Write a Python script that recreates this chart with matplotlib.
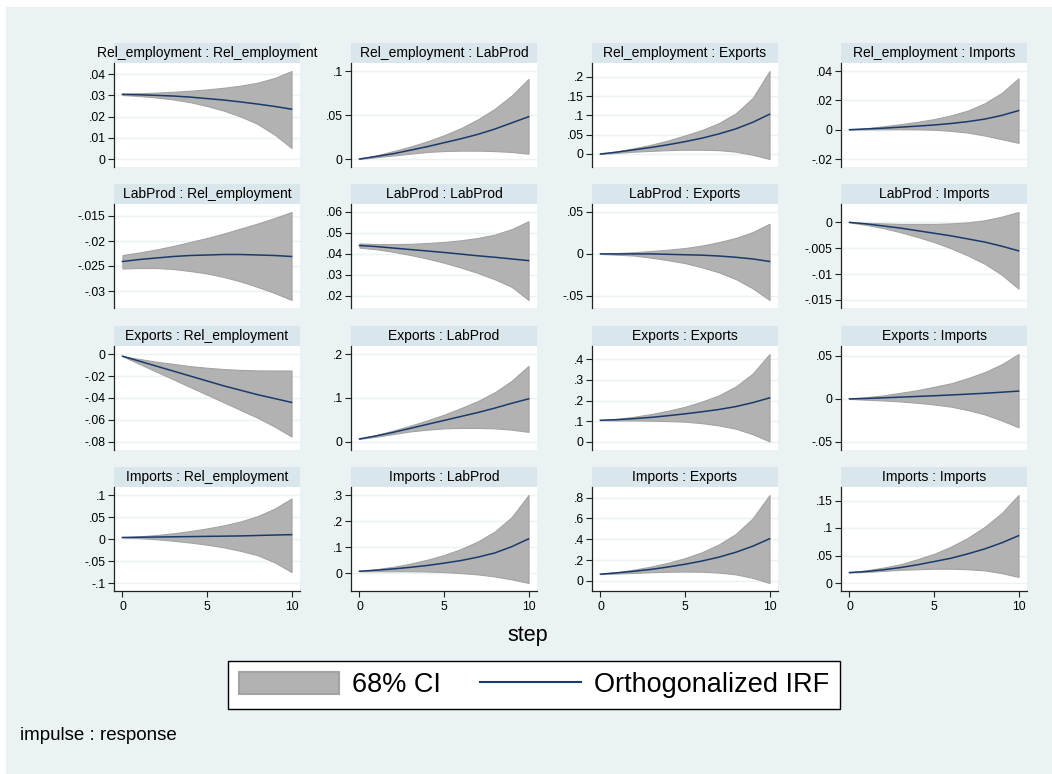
import matplotlib
matplotlib.use("Agg")
import matplotlib.pyplot as plt
from matplotlib.patches import Rectangle, Patch
from matplotlib.lines import Line2D
import numpy as np

plt.rcParams['font.family'] = ['Liberation Sans', 'DejaVu Sans']

# ---------------- data ----------------
steps = [0, 1, 2, 3, 4, 5, 6, 7, 8, 9, 10]
variables = ["Rel_employment", "LabProd", "Exports", "Imports"]

# Rel_employment impulse
irf_re_re = [.0305, .0303, .0300, .0297, .0292, .0285, .0278, .0269, .0259, .0248, .0235]
up_re_re = [.0308, .0310, .0313, .0317, .0322, .0328, .0336, .0346, .0360, .0382, .0415]
lo_re_re = [.0302, .0297, .0290, .0281, .0268, .0250, .0228, .0200, .0165, .0115, .0052]

irf_re_lp = [0, .003, .006, .010, .014, .0185, .023, .028, .034, .041, .048]
up_re_lp = [0, .004, .009, .014, .020, .027, .035, .045, .057, .072, .091]
lo_re_lp = [0, .002, .004, .006, .008, .009, .0095, .0095, .009, .008, .006]

irf_re_ex = [0, .005, .011, .017, .024, .032, .041, .052, .065, .082, .103]
up_re_ex = [0, .007, .015, .024, .035, .048, .062, .080, .105, .145, .215]
lo_re_ex = [0, .003, .006, .008, .010, .011, .011, .010, .006, -.002, -.013]

irf_re_im = [0, .0005, .001, .0017, .0024, .0032, .0042, .0055, .0072, .0097, .013]
up_re_im = [0, .001, .0023, .0037, .0053, .0072, .0097, .013, .018, .025, .035]
lo_re_im = [0, .0002, .0003, .0004, .0003, .0, -.0008, -.002, -.004, -.0065, -.009]

# LabProd impulse
irf_lp_re = [-.0241, -.0237, -.0234, -.0231, -.0229, -.0228, -.0227, -.0227, -.0228, -.0229, -.0231]
up_lp_re = [-.0228, -.0223, -.0217, -.0210, -.0202, -.0194, -.0185, -.0175, -.0165, -.0154, -.0142]
lo_lp_re = [-.0255, -.0254, -.0254, -.0256, -.0260, -.0265, -.0272, -.0281, -.0292, -.0304, -.0318]

irf_lp_lp = [.0440, .0435, .0428, .0421, .0414, .0407, .0399, .0391, .0384, .0376, .0368]
up_lp_lp = [.0450, .0447, .0447, .0448, .0452, .0457, .0465, .0476, .0492, .0518, .0556]
lo_lp_lp = [.0430, .0422, .0410, .0395, .0378, .0358, .0335, .0309, .0279, .0243, .0180]

irf_lp_ex = [0, 0, 0, 0, -.0005, -.001, -.0015, -.0025, -.004, -.006, -.009]
up_lp_ex = [0, .001, .002, .0035, .005, .007, .010, .014, .019, .026, .036]
lo_lp_ex = [0, -.001, -.002, -.0045, -.0075, -.011, -.016, -.022, -.030, -.041, -.055]

irf_lp_im = [0, -.0003, -.0007, -.0011, -.0016, -.0021, -.0026, -.0032, -.0038, -.0046, -.0055]
up_lp_im = [0, -.0001, -.0002, -.0003, -.0003, -.0003, -.0002, 0, .0004, .0011, .002]
lo_lp_im = [0, -.0005, -.0011, -.0019, -.0028, -.0038, -.0050, -.0064, -.0080, -.0101, -.0128]

# Exports impulse
irf_ex_re = [-.002, -.0065, -.011, -.0155, -.020, -.0245, -.029, -.0330, -.0370, -.0405, -.044]
up_ex_re = [-.002, -.0045, -.007, -.009, -.011, -.0125, -.0137, -.0145, -.0149, -.0150, -.0150]
lo_ex_re = [-.002, -.009, -.016, -.023, -.030, -.037, -.044, -.051, -.058, -.066, -.075]

irf_ex_lp = [.007, .014, .022, .031, .040, .049, .058, .067, .077, .088, .098]
up_ex_lp = [.007, .016, .026, .037, .049, .062, .077, .093, .113, .139, .173]
lo_ex_lp = [.007, .012, .018, .024, .028, .031, .032, .032, .031, .028, .023]

irf_ex_ex = [.105, .108, .113, .119, .127, .136, .146, .157, .171, .190, .213]
up_ex_ex = [.105, .112, .122, .135, .151, .170, .195, .225, .268, .330, .425]
lo_ex_ex = [.105, .104, .104, .103, .101, .098, .091, .080, .064, .038, .003]

irf_ex_im = [0, .0005, .0012, .002, .0028, .0036, .0045, .0055, .0065, .0077, .009]
up_ex_im = [0, .002, .004, .007, .010, .014, .018, .024, .031, .040, .052]
lo_ex_im = [0, -.001, -.0018, -.003, -.0045, -.0065, -.009, -.013, -.018, -.025, -.033]

# Imports impulse
irf_im_re = [.0035, .004, .0045, .005, .0055, .006, .0065, .007, .008, .009, .0099]
up_im_re = [.0035, .006, .009, .013, .018, .024, .031, .040, .052, .069, .092]
lo_im_re = [.0035, .002, -.0005, -.004, -.008, -.013, -.019, -.027, -.037, -.053, -.075]

irf_im_lp = [.008, .012, .017, .023, .030, .039, .049, .062, .078, .102, .132]
up_im_lp = [.008, .016, .025, .037, .052, .070, .093, .122, .160, .215, .300]
lo_im_lp = [.008, .008, .008, .008, .007, .005, .001, -.004, -.012, -.023, -.037]

irf_im_ex = [.065, .078, .093, .111, .134, .160, .191, .228, .275, .333, .405]
up_im_ex = [.065, .085, .109, .138, .174, .219, .275, .350, .450, .600, .825]
lo_im_ex = [.065, .071, .077, .083, .088, .090, .088, .080, .063, .030, -.02]

irf_im_im = [.019, .021, .024, .028, .033, .039, .045, .053, .062, .073, .086]
up_im_im = [.019, .023, .028, .034, .043, .053, .066, .082, .102, .127, .160]
lo_im_im = [.019, .020, .022, .024, .025, .026, .026, .025, .023, .018, .011]

# y tick values per panel (row = impulse, col = response)
yticks = [
    [[0, .01, .02, .03, .04], [0, .05, .1], [0, .05, .1, .15, .2], [-.02, 0, .02, .04]],
    [[-.03, -.025, -.02, -.015], [.02, .03, .04, .05, .06], [-.05, 0, .05], [-.015, -.01, -.005, 0]],
    [[-.08, -.06, -.04, -.02, 0], [0, .1, .2], [0, .1, .2, .3, .4], [-.05, 0, .05]],
    [[-.1, -.05, 0, .05, .1], [0, .1, .2, .3], [0, .2, .4, .6, .8], [0, .05, .1, .15]],
]
xticks = [0, 5, 10]

irfs = [[irf_re_re, irf_re_lp, irf_re_ex, irf_re_im],
        [irf_lp_re, irf_lp_lp, irf_lp_ex, irf_lp_im],
        [irf_ex_re, irf_ex_lp, irf_ex_ex, irf_ex_im],
        [irf_im_re, irf_im_lp, irf_im_ex, irf_im_im]]
uppers = [[up_re_re, up_re_lp, up_re_ex, up_re_im],
          [up_lp_re, up_lp_lp, up_lp_ex, up_lp_im],
          [up_ex_re, up_ex_lp, up_ex_ex, up_ex_im],
          [up_im_re, up_im_lp, up_im_ex, up_im_im]]
lowers = [[lo_re_re, lo_re_lp, lo_re_ex, lo_re_im],
          [lo_lp_re, lo_lp_lp, lo_lp_ex, lo_lp_im],
          [lo_ex_re, lo_ex_lp, lo_ex_ex, lo_ex_im],
          [lo_im_re, lo_im_lp, lo_im_ex, lo_im_im]]

# ---------------- style ----------------
W, H = 1052, 774
BG = '#eaf2f3'
BAND = '#d9e6eb'
GRID = '#eaf2f3'
CI_FACE = '#b2b2b2'
CI_EDGE = '#a3a3a3'
LINE = '#1a3a6b'

col_left = [114, 351, 592, 841]
col_w = 186
row_top = [63, 204, 346, 487]
row_h = 104
band_h = 20


def fx(x):
    return x / W


def fy(y):
    return 1 - y / H


def fmt(v):
    s = f"{v:g}"
    if s.startswith("0."):
        s = s[1:]
    elif s.startswith("-0."):
        s = "-" + s[2:]
    return s


fig = plt.figure(figsize=(W / 100, H / 100), dpi=100)
fig.patch.set_facecolor('white')
fig.patches.append(Rectangle((fx(6), 0), 1 - fx(6), fy(7), transform=fig.transFigure,
                             facecolor=BG, edgecolor='none', zorder=-10))

for r in range(4):
    for c in range(4):
        left = col_left[c]
        top = row_top[r]
        ax = fig.add_axes([fx(left), fy(top + row_h), fx(col_w), row_h / H])
        ax.set_facecolor('white')
        up = np.array(uppers[r][c])
        lo = np.array(lowers[r][c])
        ax.fill_between(steps, lo, up, facecolor=CI_FACE, edgecolor=CI_EDGE, lw=0.8, zorder=2)
        ax.plot(steps, irfs[r][c], color=LINE, lw=1.1, zorder=3)
        yt = yticks[r][c]
        lo_v = min(min(yt), lo.min())
        hi_v = max(max(yt), up.max())
        pad = (hi_v - lo_v) * 8 / 88
        ax.set_ylim(lo_v - pad, hi_v + pad)
        ax.set_xlim(-0.5, 10.5)
        ax.set_yticks(yt)
        ax.set_yticklabels([fmt(v) for v in yt], fontsize=8.8)
        ax.yaxis.grid(True, color=GRID, lw=1.0, zorder=0)
        ax.set_axisbelow(True)
        for s in ['top', 'right']:
            ax.spines[s].set_visible(False)
        ax.spines['left'].set_color('#222222')
        ax.spines['left'].set_linewidth(0.9)
        ax.tick_params(axis='y', length=4, width=0.8, color='#222222', pad=2)
        if r == 3:
            ax.set_xticks(xticks)
            ax.set_xticklabels([str(v) for v in xticks], fontsize=8.8)
            ax.tick_params(axis='x', length=4, width=0.8, color='#222222', pad=3)
            ax.spines['bottom'].set_color('#222222')
            ax.spines['bottom'].set_linewidth(0.9)
        else:
            ax.spines['bottom'].set_visible(False)
            ax.set_xticks([])
        # subtitle band
        fig.patches.append(Rectangle((fx(left), fy(top)), fx(col_w), band_h / H,
                                     transform=fig.transFigure, facecolor=BAND,
                                     edgecolor='none', zorder=-5))
        fig.text(fx(left + col_w / 2), fy(top - band_h / 2), f"{variables[r]} : {variables[c]}",
                 ha='center', va='center', fontsize=10)

fig.text(fx(528), fy(636), "step", ha='center', va='center', fontsize=15.5)

handles = [Patch(facecolor=CI_FACE, edgecolor=CI_EDGE, lw=1.5),
           Line2D([0], [0], color=LINE, lw=1.5)]
leg = fig.legend(handles, ["68% CI", "Orthogonalized IRF"], loc='center',
                 bbox_to_anchor=(fx(534), fy(685)), ncol=2, fontsize=19.5,
                 frameon=True, fancybox=False, edgecolor='black', framealpha=1,
                 handlelength=3.7, handleheight=0.9, columnspacing=1.45,
                 borderpad=0.4, handletextpad=0.5, borderaxespad=0)
leg.get_frame().set_linewidth(1.0)

fig.text(fx(20), fy(735), "impulse : response", ha='left', va='center', fontsize=13.5)

fig.savefig("out.png", dpi=100, facecolor=fig.get_facecolor())
